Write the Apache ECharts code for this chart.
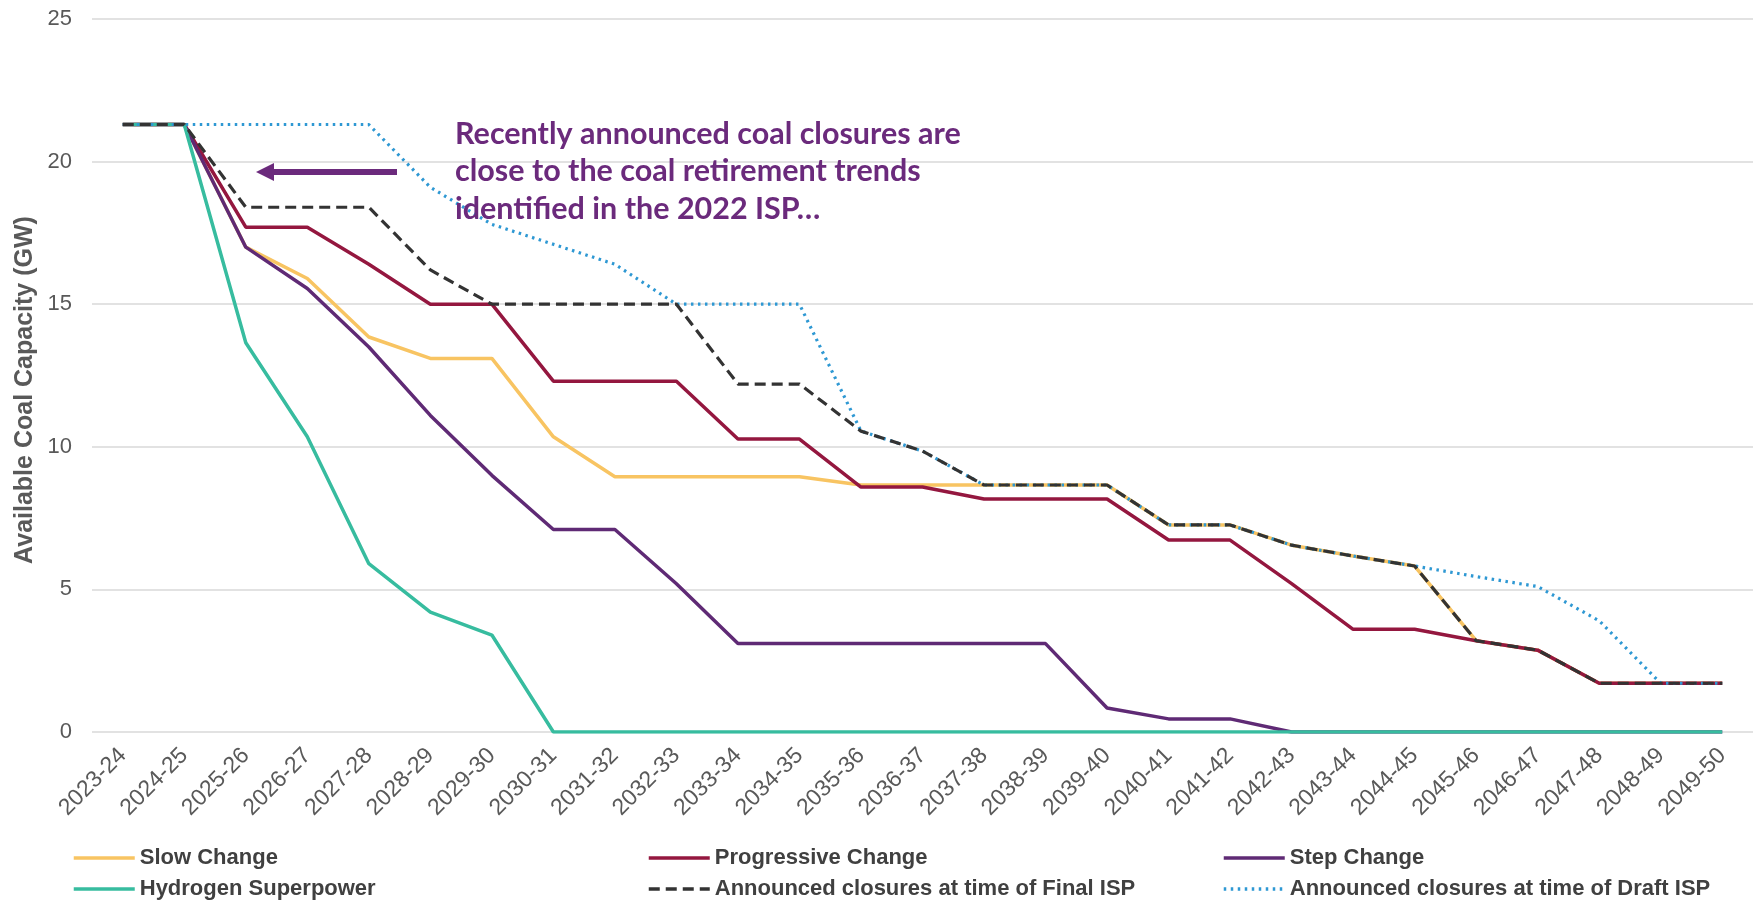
<!DOCTYPE html>
<html>
<head>
<meta charset="utf-8">
<script src="https://cdn.jsdelivr.net/npm/echarts@6.0.0/dist/echarts.min.js"></script>
<style>
  html, body { margin: 0; padding: 0; background: #ffffff; }
  #chart { width: 1756px; height: 900px; }
</style>
</head>
<body>
<div id="chart"></div>
<script>
// Financial years on the category axis
const years = ['2023-24','2024-25','2025-26','2026-27','2027-28','2028-29','2029-30','2030-31','2031-32',
  '2032-33','2033-34','2034-35','2035-36','2036-37','2037-38','2038-39','2039-40','2040-41','2041-42',
  '2042-43','2043-44','2044-45','2045-46','2046-47','2047-48','2048-49','2049-50'];

// Available coal capacity (GW) by scenario
const slowChange = [21.3, 21.3, 17.0, 15.9, 13.85, 13.1, 13.1, 10.35, 8.95, 8.95, 8.95, 8.95, 8.66, 8.66,
  8.66, 8.66, 8.66, 7.26, 7.26, 6.55, 6.17, 5.82, 3.2, 2.87, 1.71, 1.71, 1.71];
const progressiveChange = [21.3, 21.3, 17.7, 17.7, 16.4, 15.0, 15.0, 12.3, 12.3, 12.3, 10.27, 10.27, 8.59,
  8.59, 8.17, 8.17, 8.17, 6.73, 6.73, 5.2, 3.6, 3.6, 3.2, 2.87, 1.71, 1.71, 1.71];
const stepChange = [21.3, 21.3, 17.0, 15.55, 13.5, 11.1, 9.0, 7.1, 7.1, 5.2, 3.1, 3.1, 3.1, 3.1, 3.1, 3.1,
  0.84, 0.46, 0.46, 0, 0, 0, 0, 0, 0, 0, 0];
const hydrogenSuperpower = [21.3, 21.3, 13.65, 10.35, 5.9, 4.2, 3.4, 0, 0, 0, 0, 0, 0, 0, 0, 0, 0, 0, 0, 0,
  0, 0, 0, 0, 0, 0, 0];
const finalIspClosures = [21.3, 21.3, 18.4, 18.4, 18.4, 16.2, 15.0, 15.0, 15.0, 15.0, 12.2, 12.2, 10.55,
  9.85, 8.66, 8.66, 8.66, 7.26, 7.26, 6.55, 6.17, 5.82, 3.2, 2.87, 1.71, 1.71, 1.71];
const draftIspClosures = [21.3, 21.3, 21.3, 21.3, 21.3, 19.1, 17.8, 17.1, 16.4, 15.0, 15.0, 15.0, 10.55,
  9.85, 8.66, 8.66, 8.66, 7.26, 7.26, 6.55, 6.17, 5.82, 5.45, 5.1, 3.9, 1.71, 1.71];

// Y axis ticks
const yTicks = { min: 0, max: 25, interval: 5 };

const names = ['Slow Change', 'Progressive Change', 'Step Change', 'Hydrogen Superpower',
  'Announced closures at time of Final ISP', 'Announced closures at time of Draft ISP'];

const yAxisTitle = 'Available Coal Capacity (GW)';

const annotationLines = ['Recently announced coal closures are', 'close to the coal retirement trends',
  'identified in the 2022 ISP…'];

const axisGrey = '#595959';
const noteColor = '#6B2A7C';
const sansFont = 'Liberation Sans, Arial, sans-serif';

const chart = echarts.init(document.getElementById('chart'), null, { renderer: 'canvas' });

function lineSeries(name, data, color, type, z, width) {
  return {
    name: name,
    type: 'line',
    data: data,
    symbol: 'none',
    z: z,
    animation: false,
    lineStyle: { color: color, width: width || 3.5, type: type || 'solid' },
    itemStyle: { color: color }
  };
}

// Legend laid out as a 3 x 2 block, one component per entry
const legendCols = [67, 642, 1217];
const legendRows = [842, 873];
const legends = names.map(function (n, i) {
  return {
    data: [n],
    left: legendCols[i % 3],
    top: legendRows[Math.floor(i / 3)],
    itemWidth: 61,
    itemHeight: 14,
    itemStyle: { opacity: 0 },
    lineStyle: { width: 3.5 },
    textStyle: { fontSize: 22, fontWeight: 'bold', color: '#404040', fontFamily: sansFont },
    selectedMode: false
  };
});

const option = {
  backgroundColor: '#ffffff',
  animation: false,
  grid: { left: 92, right: 3, top: 19, bottom: 168 },
  legend: legends,
  xAxis: {
    type: 'category',
    data: years,
    boundaryGap: true,
    axisLine: { show: false },
    axisTick: { show: false },
    axisLabel: {
      interval: 0,
      rotate: 45,
      margin: 20,
      fontSize: 23,
      color: axisGrey,
      fontFamily: sansFont
    }
  },
  yAxis: {
    type: 'value',
    min: yTicks.min,
    max: yTicks.max,
    interval: yTicks.interval,
    axisLine: { show: false },
    axisTick: { show: false },
    axisLabel: { fontSize: 22, color: axisGrey, margin: 20, fontFamily: sansFont },
    splitLine: { lineStyle: { color: '#d9d9d9', width: 1.5 } }
  },
  series: [
    lineSeries(names[0], slowChange, '#F8C462', 'solid', 2),
    lineSeries(names[1], progressiveChange, '#94173F', 'solid', 3),
    lineSeries(names[2], stepChange, '#5F2A75', 'solid', 4),
    lineSeries(names[3], hydrogenSuperpower, '#37BC9F', 'solid', 5),
    lineSeries(names[5], draftIspClosures, '#2E98D3', [2.5, 4.5], 6, 3.2),
    lineSeries(names[4], finalIspClosures, '#333333', [11, 6], 7, 3.2)
  ],
  graphic: [
    {
      // rotated y-axis title
      type: 'text',
      x: 25,
      y: 390,
      rotation: Math.PI / 2,
      z: 20,
      style: {
        text: yAxisTitle,
        fill: axisGrey,
        font: 'bold 25px ' + sansFont,
        align: 'center',
        verticalAlign: 'middle'
      }
    },
    {
      type: 'text',
      left: 455,
      top: 115,
      z: 20,
      style: {
        text: annotationLines.join('\n'),
        fill: noteColor,
        font: 'bold 30.5px Lato, "Open Sans", sans-serif',
        lineHeight: 37.5
      }
    },
    {
      type: 'line',
      z: 20,
      shape: { x1: 397, y1: 172, x2: 270, y2: 172 },
      style: { stroke: noteColor, lineWidth: 6 }
    },
    {
      type: 'polygon',
      z: 20,
      shape: { points: [[256, 172], [274, 163], [274, 181]] },
      style: { fill: noteColor }
    }
  ]
};

chart.setOption(option);
</script>
</body>
</html>
